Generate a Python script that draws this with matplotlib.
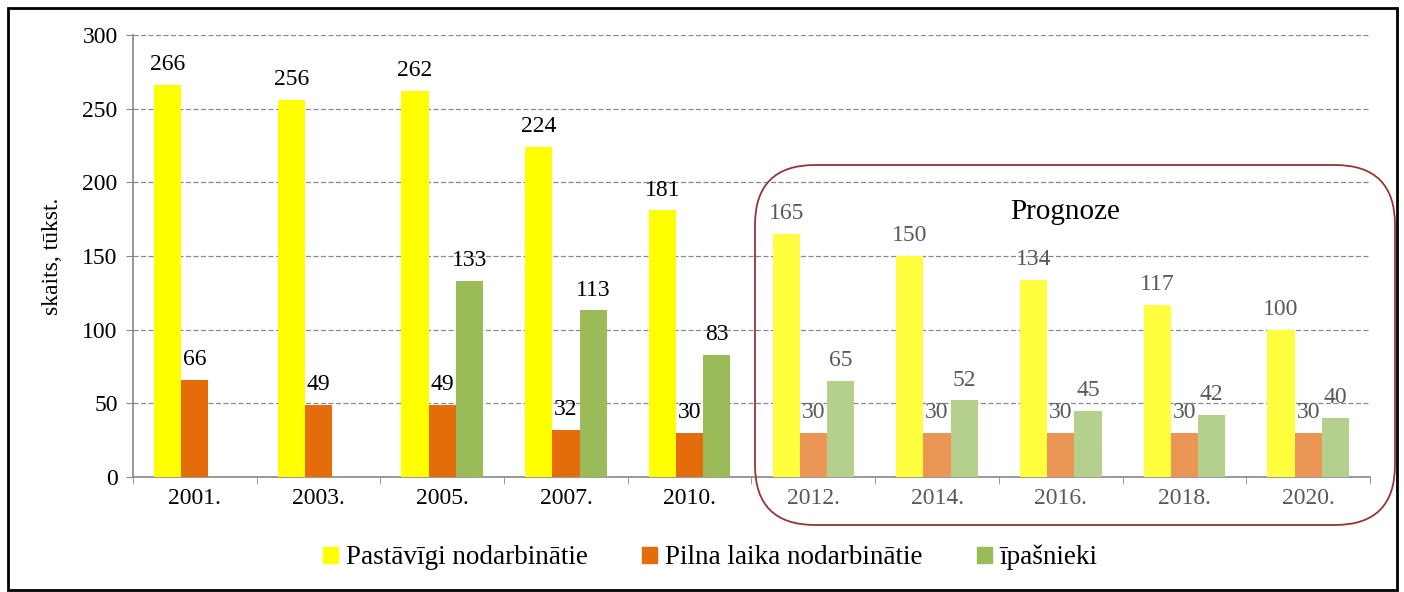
import matplotlib
matplotlib.use("Agg")
import matplotlib.pyplot as plt
from matplotlib.patches import FancyBboxPatch, Rectangle
from matplotlib.transforms import IdentityTransform
import numpy as np

years = ["2001.", "2003.", "2005.", "2007.", "2010.", "2012.", "2014.", "2016.", "2018.", "2020."]
pastavigi = [266, 256, 262, 224, 181, 165, 150, 134, 117, 100]
pilna = [66, 49, 49, 32, 30, 30, 30, 30, 30, 30]
ipasnieki = [None, None, 133, 113, 83, 65, 52, 45, 42, 40]
series_names = ["Pastāvīgi nodarbinātie", "Pilna laika nodarbinātie", "īpašnieki"]
n_hist = 5

col_hist = ["#FFFF00", "#E46C0A", "#9BBB59"]
col_fc = ["#FFFF40", "#EB9655", "#B5CF8C"]

plt.rcParams['font.family'] = ['Liberation Serif', 'DejaVu Serif']

fig = plt.figure(figsize=(14.04, 5.92), dpi=100)
ax = fig.add_axes([0.0947, 0.1943, 0.8811, 0.7466])

x = np.arange(len(years))
w = 0.22
offs = [-w, 0, w]
for si, vals in enumerate([pastavigi, pilna, ipasnieki]):
    for i, v in enumerate(vals):
        if v is None:
            continue
        fc = col_hist[si] if i < n_hist else col_fc[si]
        ax.bar(x[i] + offs[si], v, width=w, color=fc, zorder=3)
        tc = "black" if i < n_hist else "#595959"
        ax.annotate(str(v), (x[i] + offs[si], v), xytext=(0, 7), textcoords="offset points",
                    ha="center", va="bottom", fontsize=17, color=tc, zorder=4)

ax.set_xlim(-0.5, 9.5)
ax.set_ylim(0, 300)
ax.set_yticks(range(0, 301, 50))
ax.set_xticks(x)
ax.set_xticklabels(years)
ax.set_xticks(np.arange(-0.5, 10.0, 1.0), minor=True)
ax.tick_params(axis="x", which="major", length=0, pad=8, labelsize=17)
ax.tick_params(axis="x", which="minor", length=5, color="#888888", direction="out")
ax.tick_params(axis="y", length=5, color="#888888", labelsize=17, pad=6)
for t in ax.get_xticklabels()[n_hist:]:
    t.set_color("#595959")

ax.yaxis.grid(True, linestyle=(0, (4, 2)), color="#888888", linewidth=0.9, zorder=0)
for s in ["top", "right"]:
    ax.spines[s].set_visible(False)
ax.spines["left"].set_color("#888888")
ax.spines["bottom"].set_color("#888888")
ax.spines["left"].set_linewidth(1.2)
ax.spines["bottom"].set_linewidth(1.2)

ax.set_ylabel("skaits, tūkst.", fontsize=17, labelpad=14)

# legend
handles = [Rectangle((0, 0), 1, 1, color=c) for c in col_hist]
fig.legend(handles, series_names, loc="center", bbox_to_anchor=(0.506, 0.058), ncol=3,
           frameon=False, fontsize=19.5, handlelength=0.55, handleheight=0.55,
           handletextpad=0.3, columnspacing=2.0)

# forecast rounded box (pixel coordinates)
box = FancyBboxPatch((755, 67), 640, 360,
                     boxstyle="round,pad=0,rounding_size=60",
                     transform=IdentityTransform(), fill=False, edgecolor="#943634", linewidth=1.3)
fig.patches.append(box)
fig.text(0.7585, 0.642, "Prognoze", fontsize=21, ha="center", va="center")

# outer frame
frame = Rectangle((0.006, 0.004), 0.989, 0.982, transform=fig.transFigure, fill=False,
                  edgecolor="black", linewidth=2)
fig.patches.append(frame)

fig.savefig("out.png", dpi=100)
